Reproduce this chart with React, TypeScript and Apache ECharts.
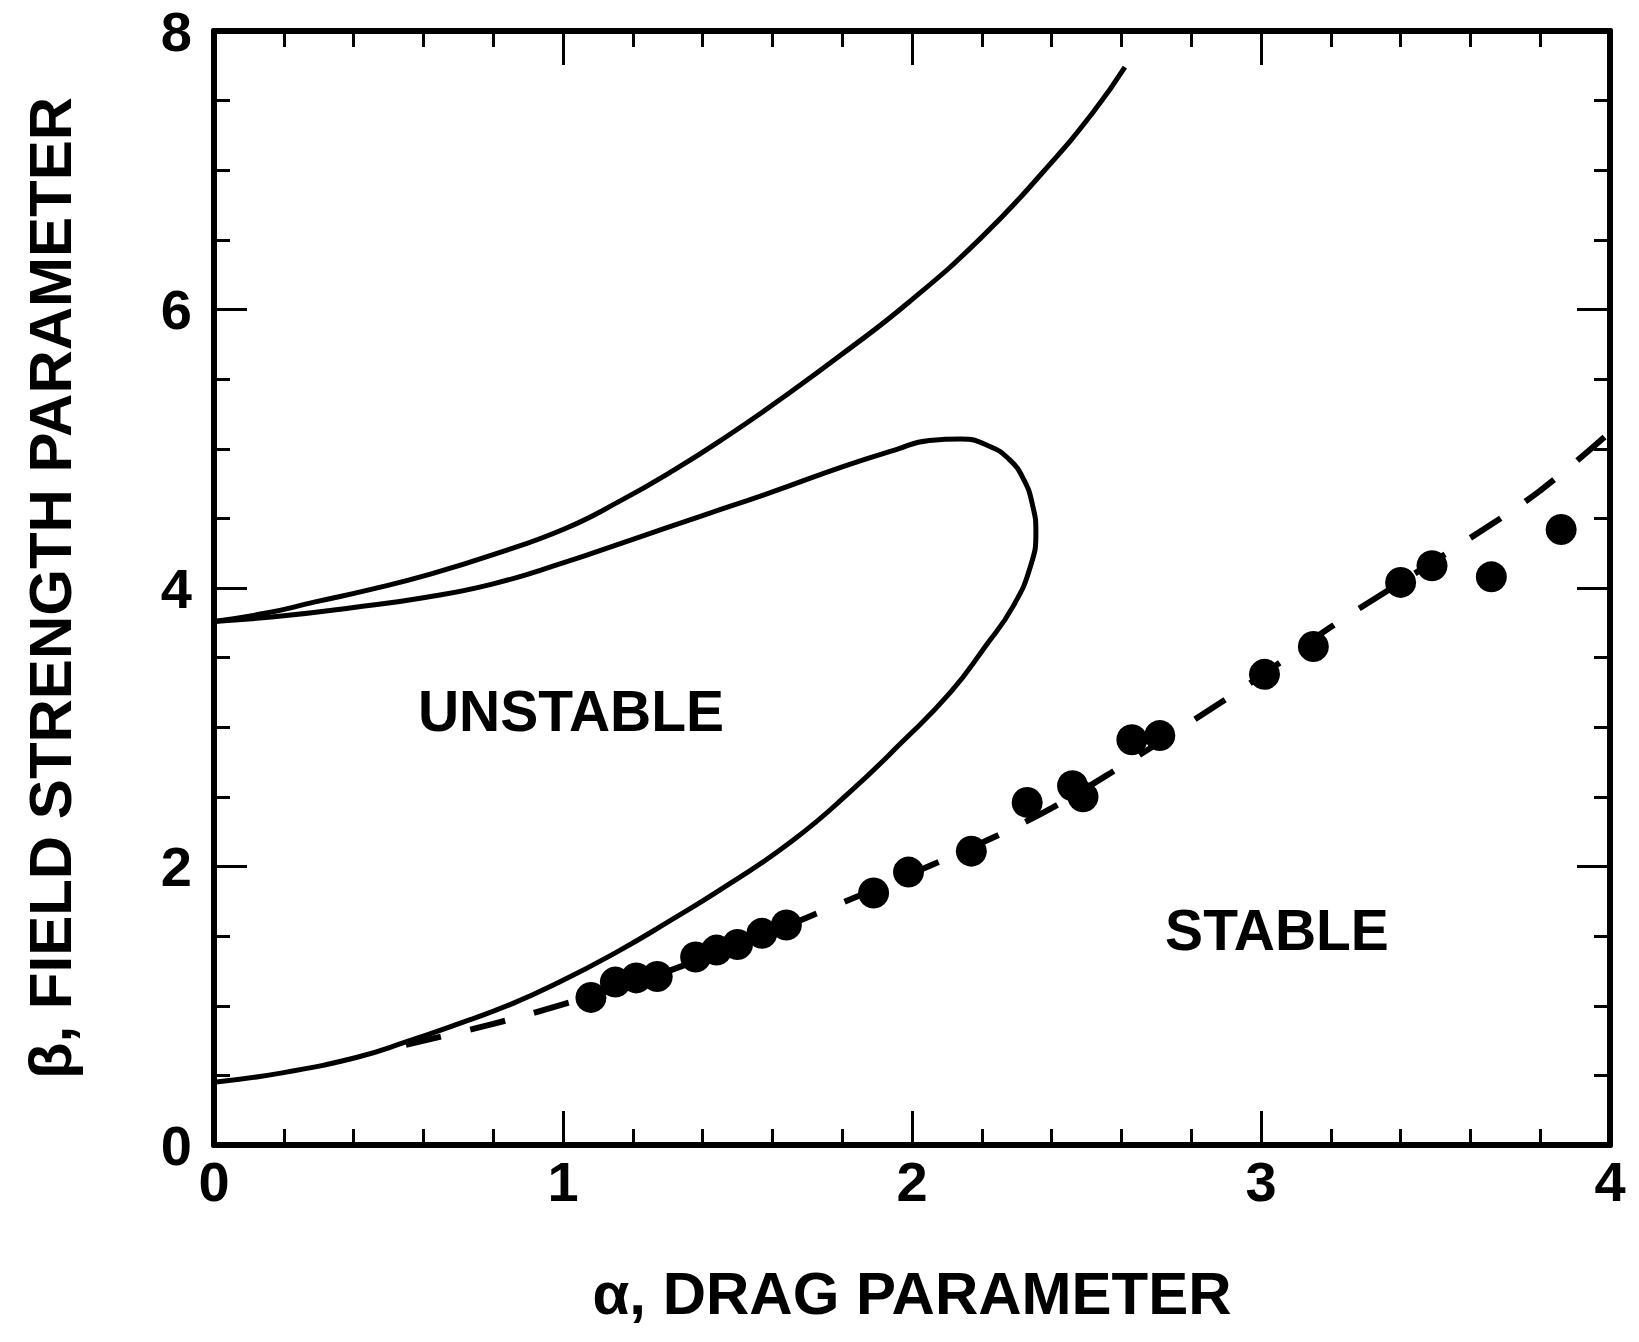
import React, { useEffect, useRef } from "react";
import * as echarts from "echarts";

// Outer (upper) stability boundary
const outerX = [0, 0.15, 0.29, 0.45, 0.62, 0.8, 1.0, 1.16, 1.32, 1.47, 1.62, 1.8, 1.99, 2.2, 2.38, 2.52, 2.61];
const outerY = [3.76, 3.82, 3.9, 3.99, 4.1, 4.24, 4.42, 4.62, 4.85, 5.09, 5.35, 5.68, 6.05, 6.52, 7.0, 7.42, 7.74];

// Inner loop boundary (traced from upper-left around the nose back to lower-left)
const loopX = [0, 0.2, 0.4, 0.6, 0.8, 1.0, 1.2, 1.4, 1.6, 1.8, 1.95, 2.05, 2.14, 2.22, 2.28, 2.32, 2.345, 2.355, 2.34, 2.29, 2.21, 2.11, 1.97, 1.82, 1.66, 1.48, 1.3, 1.15, 0.99, 0.85, 0.7, 0.55, 0.41, 0.2, 0];
const loopY = [3.76, 3.8, 3.86, 3.93, 4.03, 4.18, 4.35, 4.52, 4.69, 4.87, 4.99, 5.06, 5.07, 5.02, 4.92, 4.78, 4.6, 4.4, 4.16, 3.87, 3.58, 3.25, 2.89, 2.53, 2.19, 1.88, 1.6, 1.38, 1.17, 1.01, 0.87, 0.74, 0.63, 0.52, 0.45];

// Dashed fit line
const dashX = [0.55, 0.8, 1.0, 1.2, 1.4, 1.6, 1.8, 2.0, 2.2, 2.4, 2.6, 2.8, 3.0, 3.2, 3.4, 3.6, 3.8, 4.0];
const dashY = [0.72, 0.87, 1.01, 1.16, 1.34, 1.53, 1.74, 1.95, 2.17, 2.42, 2.72, 3.04, 3.37, 3.72, 4.04, 4.36, 4.7, 5.12];

// Measured points
const dotX = [1.08, 1.15, 1.21, 1.27, 1.38, 1.44, 1.5, 1.57, 1.64, 1.89, 1.99, 2.17, 2.33, 2.46, 2.49, 2.63, 2.71, 3.01, 3.15, 3.4, 3.49, 3.66, 3.86];
const dotY = [1.06, 1.17, 1.2, 1.21, 1.35, 1.4, 1.44, 1.52, 1.58, 1.81, 1.96, 2.11, 2.46, 2.58, 2.5, 2.91, 2.94, 3.38, 3.58, 4.04, 4.16, 4.08, 4.42];

const xTicks = [0, 1, 2, 3, 4];
const yTicks = [0, 2, 4, 6, 8];

const zip = (a: number[], b: number[]) => a.map((v, i) => [v, b[i]]);

const FONT = "Liberation Sans, Arial, Helvetica, sans-serif";

export default function App() {
  const ref = useRef<HTMLDivElement>(null);
  useEffect(() => {
    document.body.style.margin = "0";
    const chart = echarts.init(ref.current!, null, { renderer: "svg" });
    const tickStyle = { color: "#000", width: 3 };
    const baseX = {
      type: "value",
      min: xTicks[0],
      max: xTicks[xTicks.length - 1],
      interval: 1,
      axisLine: { show: true, onZero: false, lineStyle: { color: "#000", width: 6 } },
      axisTick: { show: true, inside: true, length: 34, lineStyle: tickStyle },
      minorTick: { show: true, splitNumber: 5, length: 16, lineStyle: tickStyle },
      splitLine: { show: false },
    };
    const baseY = {
      type: "value",
      min: yTicks[0],
      max: yTicks[yTicks.length - 1],
      interval: 2,
      axisLine: { show: true, onZero: false, lineStyle: { color: "#000", width: 6 } },
      axisTick: { show: true, inside: true, length: 33, lineStyle: tickStyle },
      minorTick: { show: true, splitNumber: 4, length: 16, lineStyle: tickStyle },
      splitLine: { show: false },
    };
    chart.setOption({
      animation: false,
      backgroundColor: "#fff",
      grid: { left: 214, right: 29, top: 31, bottom: 197 },
      xAxis: [
        {
          ...baseX,
          position: "bottom",
          name: "α, DRAG PARAMETER",
          nameLocation: "middle",
          nameGap: 118,
          nameTextStyle: { fontFamily: FONT, fontWeight: "bold", fontSize: 60, color: "#000" },
          axisLabel: { show: true, margin: 8, fontFamily: FONT, fontWeight: "bold", fontSize: 56, color: "#000" },
        },
        { ...baseX, position: "top", axisLabel: { show: false } },
      ],
      yAxis: [
        {
          ...baseY,
          position: "left",
          name: "β, FIELD STRENGTH PARAMETER",
          nameLocation: "middle",
          nameGap: 134,
          nameTextStyle: { fontFamily: FONT, fontWeight: "bold", fontSize: 60, color: "#000" },
          axisLabel: { show: true, margin: 22, fontFamily: FONT, fontWeight: "bold", fontSize: 56, color: "#000" },
        },
        { ...baseY, position: "right", axisLabel: { show: false } },
      ],
      series: [
        {
          type: "line",
          data: zip(outerX, outerY),
          smooth: 0.5,
          symbol: "none",
          lineStyle: { color: "#000", width: 5 },
        },
        {
          type: "line",
          data: zip(loopX, loopY),
          smooth: 0.5,
          symbol: "none",
          lineStyle: { color: "#000", width: 5 },
        },
        {
          type: "line",
          data: zip(dashX, dashY),
          smooth: 0.4,
          symbol: "none",
          lineStyle: { color: "#000", width: 6, type: [36, 30] },
        },
        {
          type: "scatter",
          data: zip(dotX, dotY),
          symbol: "circle",
          symbolSize: 31,
          itemStyle: { color: "#000", opacity: 1 },
        },
      ],
      graphic: [
        {
          type: "text",
          x: 571,
          y: 711,
          style: {
            text: "UNSTABLE",
            font: `bold 57px ${FONT}`,
            fill: "#000",
            align: "center",
            verticalAlign: "middle",
            textAlign: "center",
            textVerticalAlign: "middle",
          },
        },
        {
          type: "text",
          x: 1277,
          y: 930,
          style: {
            text: "STABLE",
            font: `bold 57px ${FONT}`,
            fill: "#000",
            align: "center",
            verticalAlign: "middle",
            textAlign: "center",
            textVerticalAlign: "middle",
          },
        },
      ],
    });
    return () => chart.dispose();
  }, []);
  return <div ref={ref} style={{ width: 1639, height: 1342 }} />;
}
